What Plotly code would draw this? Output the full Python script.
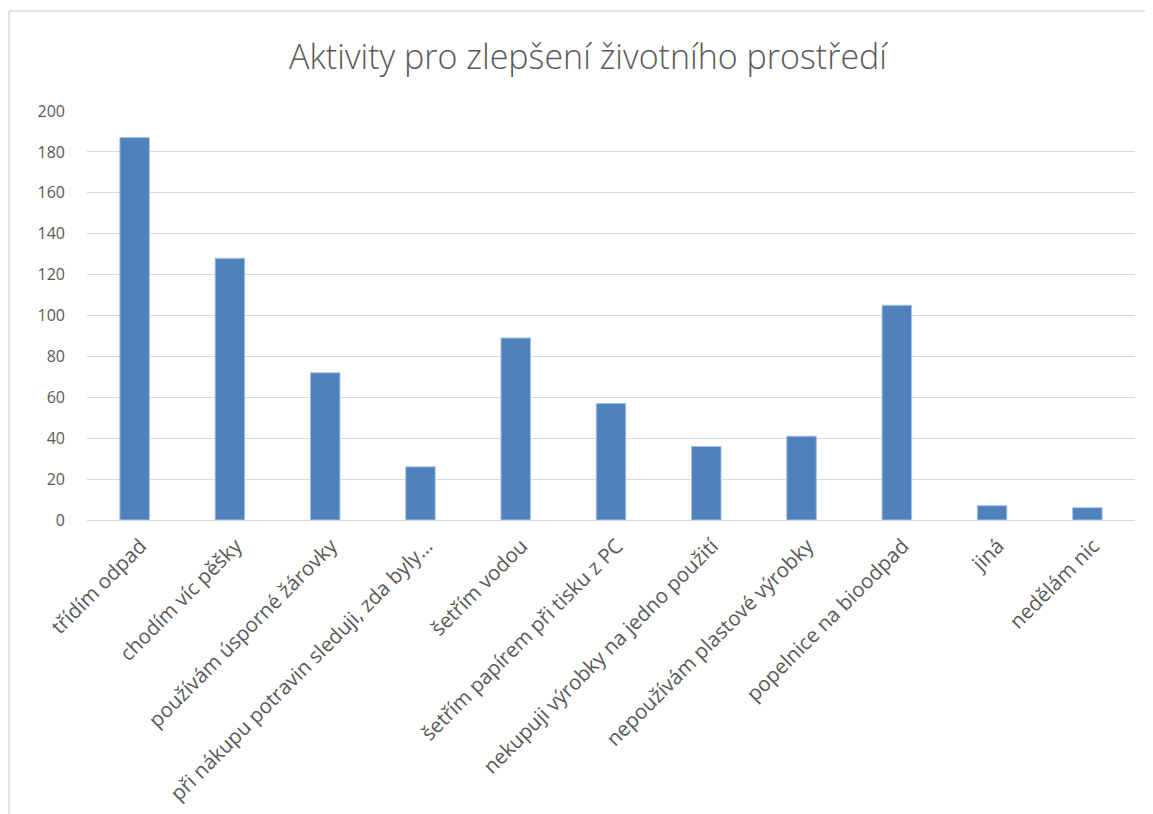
import plotly.graph_objects as go

categories = [
    "třídím odpad",
    "chodím víc pěšky",
    "používám úsporné žárovky",
    "při nákupu potravin sleduji, zda byly…",
    "šetřím vodou",
    "šetřím papírem při tisku z PC",
    "nekupuji výrobky na jedno použití",
    "nepoužívám plastové výrobky",
    "popelnice na bioodpad",
    "jiná",
    "nedělám nic",
]
values = [187, 128, 72, 26, 89, 57, 36, 41, 105, 7, 6]
title_text = "Aktivity pro zlepšení životního prostředí"
y_ticks = [0, 20, 40, 60, 80, 100, 120, 140, 160, 180, 200]

# page has an 8px body margin; work in screenshot pixels and shift
OFF = 8
W, H = 1153 - OFF, 814 - OFF
L, R, T, B = 87 - OFF, 1135 - OFF, 111 - OFF, 520 - OFF

fig = go.Figure(go.Bar(
    x=categories, y=values,
    marker=dict(color="#4f81bd", line=dict(color="#a9c4e6", width=1)),
    width=0.31,
))

font_family = "'Open Sans', 'Noto Sans', sans-serif"
fig.update_layout(
    width=W, height=H,
    margin=dict(l=L, r=W - R, t=T, b=H - B),
    paper_bgcolor="white", plot_bgcolor="white",
    font=dict(family=font_family, color="#595959", size=16),
    title=dict(text=title_text, xref="container", x=(588 - OFF) / W, xanchor="center",
               y=1 - (57 - OFF) / H, yanchor="middle",
               font=dict(size=34, color="#595959", family=font_family, weight=300)),
    showlegend=False,
)
fig.update_xaxes(tickangle=-45, showgrid=False, showline=False, ticks="",
                 automargin=False, ticklabelshift=6, ticklabelstandoff=9,
                 tickfont=dict(size=20.5, color="#595959"))
fig.update_yaxes(range=[0, 200], tickvals=y_ticks, showgrid=True, gridcolor="#d9d9d9",
                 gridwidth=1, zeroline=True, zerolinecolor="#d9d9d9", zerolinewidth=1,
                 showline=False, ticks="", ticklabelstandoff=21, automargin=False,
                 tickfont=dict(size=16, color="#595959"))

def px_x(p):
    return (p - OFF - L) / (R - L)

def px_y(p):
    return (B - (p - OFF)) / (B - T)

# chart-area border (left and top edges visible)
fig.add_shape(type="line", xref="paper", yref="paper",
              x0=px_x(9), x1=px_x(9), y0=px_y(11), y1=px_y(814),
              line=dict(color="#d9d9d9", width=1.5))
fig.add_shape(type="line", xref="paper", yref="paper",
              x0=px_x(9), x1=px_x(1153), y0=px_y(11), y1=px_y(11),
              line=dict(color="#d9d9d9", width=1.5))

fig.write_html("out.html")
